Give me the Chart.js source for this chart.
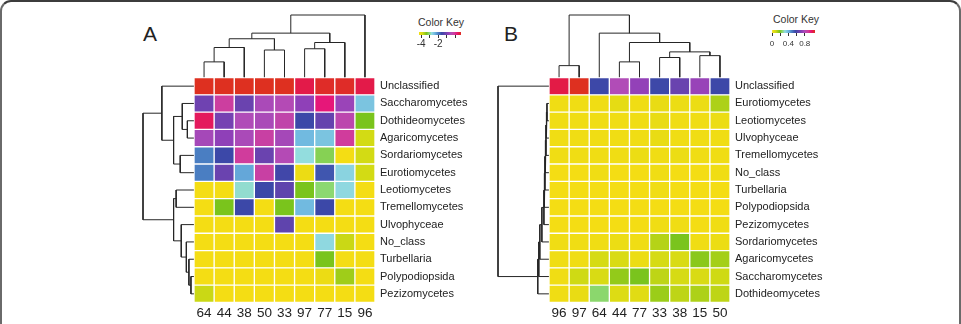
<!DOCTYPE html>
<html>
<head>
<meta charset="utf-8">
<title>Heatmaps A and B</title>
<script src="https://cdn.jsdelivr.net/npm/chart.js@4.4.1/dist/chart.umd.min.js"></script>
<style>
  html, body { margin: 0; padding: 0; background: #fff; }
  #page { position: relative; width: 961px; height: 324px; overflow: hidden; font-family: "Liberation Sans", Arial, Helvetica, sans-serif; color: #222; }
  .frame { position: absolute; left: 0; top: 0; width: 957px; height: 400px; border: 2px solid #6a6a6a; border-top-color: #3c3c3c; border-radius: 11px; }
  .box { position: absolute; }
  .box canvas { display: block; }
  .txt { position: absolute; line-height: 1; white-space: nowrap; }
</style>
</head>
<body>
<div id="page">
  <div class="frame"></div>
  <div class="txt" style="left:143px; top:23px; font-size:21px;">A</div>
  <div class="txt" style="left:504px; top:23px; font-size:21px;">B</div>
  <div class="txt" style="left:418px; top:16.5px; font-size:10.5px; color:#333;">Color Key</div>
  <div class="txt" style="left:773px; top:13.5px; font-size:10.5px; color:#333;">Color Key</div>
  <div class="box" style="left:130px; top:0;"><canvas id="heatA" width="350" height="324"></canvas></div>
  <div class="box" style="left:490px; top:0;"><canvas id="heatB" width="350" height="324"></canvas></div>
  <div class="box" style="left:409px; top:28px;"><canvas id="keyA" width="62" height="24"></canvas></div>
  <div class="box" style="left:762px; top:27px;"><canvas id="keyB" width="63" height="24"></canvas></div>
</div>
<script>
// ---- panel A data ----
const colsA = ['64', '44', '38', '50', '33', '97', '77', '15', '96'];
const rowsA = ['Unclassified', 'Saccharomycetes', 'Dothideomycetes', 'Agaricomycetes', 'Sordariomycetes',
  'Eurotiomycetes', 'Leotiomycetes', 'Tremellomycetes', 'Ulvophyceae', 'No_class', 'Turbellaria',
  'Polypodiopsida', 'Pezizomycetes'];
// one row per class, values on the colour key scale
const valuesA = [
  [0.70, 0.70, 0.70, 0.70, 0.70, 0.45, 0.65, 0.65, 0.45],
  [-1.08, -0.14, -1.13, -0.54, -0.44, -0.79, 0.21, -0.69, -2.52],
  [0.35, -1.03, -0.49, -0.54, -0.29, -1.58, -1.18, -0.34, -3.36],
  [-0.59, -0.79, -0.54, -0.19, -0.59, -2.42, -2.52, -0.09, -3.85],
  [-1.97, -1.58, -0.09, -1.13, -0.44, -2.77, -3.16, -4.25, -3.85],
  [-1.97, -1.13, -2.27, -0.19, -1.53, -4.15, -1.68, -2.67, -3.85],
  [-4.25, -4.25, -2.81, -1.58, -1.23, -3.36, -3.06, -2.72, -4.25],
  [-4.25, -3.36, -1.58, -4.25, -3.36, -2.42, -1.58, -4.25, -4.25],
  [-4.25, -4.25, -4.25, -4.25, -1.23, -4.25, -4.25, -4.25, -4.25],
  [-4.25, -4.25, -4.25, -4.25, -4.25, -4.25, -2.72, -3.80, -4.25],
  [-4.25, -4.25, -4.25, -4.25, -4.25, -4.25, -3.36, -4.25, -4.25],
  [-4.25, -4.25, -4.25, -4.25, -4.25, -4.25, -4.15, -3.56, -4.25],
  [-3.80, -4.25, -4.25, -4.25, -4.25, -4.25, -4.25, -4.25, -4.25]
];
// dendrograms, hclust style: negative = leaf (display position), positive = earlier merge
const colMergeA = [[-1, -2], [1, -3], [-4, -5], [2, 3], [-6, -7], [5, -8], [4, 6], [7, -9]];
const colHeightA = [0.25, 0.48, 0.44, 0.62, 0.46, 0.56, 0.71, 1.0];
const rowMergeA = [[-3, -4], [-2, 1], [-5, -6], [2, 3], [-1, 4], [-12, -13], [-11, 6], [-10, 7],
  [-9, 8], [-7, -8], [10, 9], [5, 11]];
const rowHeightA = [0.13, 0.23, 0.27, 0.40, 0.63, 0.06, 0.10, 0.15, 0.25, 0.35, 0.40, 1.0];
const keyRangeA = [-4.25, 0.7];
const keyTicksA = [-4, -3, -2, -1, 0];
const keyLabelsA = ['-4', '', '-2', '', ''];

// ---- panel B data ----
const colsB = ['96', '97', '64', '44', '77', '33', '38', '15', '50'];
const rowsB = ['Unclassified', 'Eurotiomycetes', 'Leotiomycetes', 'Ulvophyceae', 'Tremellomycetes',
  'No_class', 'Turbellaria', 'Polypodiopsida', 'Pezizomycetes', 'Sordariomycetes', 'Agaricomycetes',
  'Saccharomycetes', 'Dothideomycetes'];
const valuesB = [
  [1.00, 1.05, 0.57, 0.80, 0.74, 0.57, 0.66, 0.75, 0.57],
  [0.01, 0.01, 0.01, 0.04, 0.01, 0.03, 0.02, 0.02, 0.13],
  [0.01, 0.01, 0.01, 0.01, 0.01, 0.03, 0.01, 0.01, 0.02],
  [0.01, 0.01, 0.01, 0.01, 0.01, 0.03, 0.01, 0.01, 0.01],
  [0.01, 0.01, 0.01, 0.01, 0.02, 0.01, 0.02, 0.01, 0.01],
  [0.00, 0.00, 0.01, 0.00, 0.00, 0.01, 0.00, 0.00, 0.01],
  [0.00, 0.00, 0.00, 0.00, 0.00, 0.01, 0.00, 0.00, 0.00],
  [0.00, 0.00, 0.00, 0.00, 0.00, 0.00, 0.00, 0.00, 0.00],
  [0.00, 0.00, 0.00, 0.00, 0.00, 0.01, 0.01, 0.00, 0.01],
  [0.01, 0.01, 0.01, 0.02, 0.01, 0.12, 0.19, 0.01, 0.02],
  [0.01, 0.01, 0.08, 0.07, 0.02, 0.08, 0.07, 0.17, 0.14],
  [0.01, 0.09, 0.07, 0.16, 0.19, 0.11, 0.08, 0.07, 0.09],
  [0.01, 0.03, 0.25, 0.06, 0.05, 0.15, 0.11, 0.13, 0.11]
];
const colMergeB = [[-1, -2], [-4, -5], [-6, -7], [-8, -9], [3, 4], [2, 5], [-3, 6], [1, 7]];
const colHeightB = [0.19, 0.25, 0.32, 0.35, 0.41, 0.56, 0.71, 1.0];
const rowMergeB = [[-2, -3], [1, -4], [2, -5], [3, -6], [4, -7], [5, -8], [6, -9], [7, -10],
  [8, -11], [9, -12], [10, -13], [-1, 11]];
const rowHeightB = [0.04, 0.05, 0.06, 0.07, 0.08, 0.09, 0.10, 0.14, 0.18, 0.20, 0.22, 1.0];
const keyRangeB = [0, 1.05];
const keyTicksB = [0, 0.2, 0.4, 0.6, 0.8];
const keyLabelsB = ['0', '', '0.4', '', '0.8'];

// colour ramp (yellow -> green -> cyan -> blue -> purple -> red)
const rampPos = [0, 0.08, 0.18, 0.24, 0.30, 0.38, 0.46, 0.54, 0.62, 0.70, 0.76, 0.84, 0.90, 0.95, 1];
const rampCol = ['#f4dd14', '#d4db14', '#7ac41c', '#8cd870', '#93dde0', '#6cb5e0', '#4a7ec2', '#3c48a8',
  '#6443ae', '#9040b8', '#b04cb8', '#d03c9c', '#e6177a', '#e31a48', '#de3020'];

Chart.defaults.font.family = '"Liberation Sans", Arial, Helvetica, sans-serif';
Chart.defaults.color = '#222';

function hexRgb(h) {
  return [parseInt(h.slice(1, 3), 16), parseInt(h.slice(3, 5), 16), parseInt(h.slice(5, 7), 16)];
}

function rampColor(t) {
  t = Math.max(0, Math.min(1, t));
  let k = 1;
  while (k < rampPos.length - 1 && t > rampPos[k]) k++;
  const f = (t - rampPos[k - 1]) / (rampPos[k] - rampPos[k - 1]);
  const a = hexRgb(rampCol[k - 1]), b = hexRgb(rampCol[k]);
  return 'rgb(' + a.map((c, i) => Math.round(c + (b[i] - c) * f)).join(',') + ')';
}

// elbow segments of a dendrogram as [leafPosition, height] points, null = pen up
function dendroPath(merge, height) {
  const pos = [], pts = [];
  const nodePos = k => k < 0 ? -k - 0.5 : pos[k - 1];
  const nodeH = k => k < 0 ? 0 : height[k - 1];
  merge.forEach((m, i) => {
    const a = m[0], b = m[1], h = height[i];
    pts.push([nodePos(a), nodeH(a)], [nodePos(a), h], [nodePos(b), h], [nodePos(b), nodeH(b)], null);
    pos[i] = (nodePos(a) + nodePos(b)) / 2;
  });
  return pts;
}

function treeSet(points) {
  return {
    type: 'line', data: points, borderColor: '#262626', borderWidth: 1,
    pointRadius: 0, fill: false, tension: 0, spanGaps: false
  };
}

function drawPanel(id, p) {
  const nCols = p.cols.length, nRows = p.rows.length;
  const pxX = (p.gridRight - p.gridLeft) / nCols;
  const pxY = (p.gridBottom - p.gridTop) / nRows;
  const span = p.keyRange[1] - p.keyRange[0];

  const datasets = [];
  // heatmap: one floating-bar dataset per column
  for (let j = 0; j < nCols; j++) {
    datasets.push({
      type: 'bar', indexAxis: 'y', grouped: false,
      data: p.values.map((row, i) => ({ x: [j, j + 1], y: i + 0.5 })),
      backgroundColor: p.values.map(row => rampColor((row[j] - p.keyRange[0]) / span)),
      borderColor: '#ffffff', borderWidth: 1, borderSkipped: false,
      barPercentage: 1, categoryPercentage: 1
    });
  }
  const colLen = (p.gridTop - p.dendroTop) / pxY;
  const rowLen = (p.gridLeft - p.dendroLeft) / pxX;
  datasets.push(treeSet(dendroPath(p.colMerge, p.colHeight)
    .map(q => q ? { x: q[0], y: -q[1] * colLen } : { x: null, y: null })));
  datasets.push(treeSet(dendroPath(p.rowMerge, p.rowHeight)
    .map(q => q ? { x: -q[1] * rowLen, y: q[0] } : { x: null, y: null })));

  new Chart(document.getElementById(id), {
    type: 'scatter',
    data: { datasets: datasets },
    options: {
      responsive: false, animation: false, events: [],
      layout: { padding: 0 },
      plugins: { legend: { display: false }, tooltip: { enabled: false } },
      scales: {
        x: {
          type: 'linear', position: 'bottom', offset: false,
          min: -(p.gridLeft - p.canvasLeft) / pxX, max: nCols,
          grid: { display: false, drawTicks: false }, border: { display: false },
          afterBuildTicks: s => { s.ticks = p.cols.map((c, i) => ({ value: i + 0.5 })); },
          afterFit: s => {
            s.height = p.canvasHeight - p.gridBottom;
            s.paddingLeft = 0; s.paddingRight = 0;
          },
          ticks: {
            autoSkip: false, maxRotation: 0, padding: 3, color: '#222',
            font: { size: 13.5 }, callback: (v, i) => p.cols[i]
          }
        },
        y: {
          type: 'linear', position: 'right', reverse: true, offset: false,
          min: -p.gridTop / pxY, max: nRows,
          grid: { display: false, drawTicks: false }, border: { display: false },
          afterBuildTicks: s => { s.ticks = p.rows.map((r, i) => ({ value: i + 0.5 })); },
          afterFit: s => {
            s.width = p.canvasLeft + p.canvasWidth - p.gridRight;
            s.paddingTop = 0; s.paddingBottom = 0;
          },
          ticks: {
            autoSkip: false, padding: 5, color: '#222',
            font: { size: 11 }, callback: (v, i) => p.rows[i]
          }
        }
      }
    }
  });
}

function drawKey(id, range, ticks, labels, cfg) {
  new Chart(document.getElementById(id), {
    type: 'scatter',
    data: {
      datasets: [{
        type: 'bar', indexAxis: 'y', grouped: false,
        data: [{ x: range, y: 0 }],
        backgroundColor: ctx => {
          const area = ctx.chart.chartArea;
          if (!area) return rampCol[0];
          const g = ctx.chart.ctx.createLinearGradient(area.left, 0, area.right, 0);
          rampPos.forEach((t, i) => g.addColorStop(t, rampCol[i]));
          return g;
        },
        borderWidth: 0, barPercentage: 1, categoryPercentage: 1
      }]
    },
    options: {
      responsive: false, animation: false, events: [],
      layout: { padding: { left: 10, right: 10, top: cfg.top, bottom: 0 } },
      plugins: { legend: { display: false }, tooltip: { enabled: false } },
      scales: {
        x: {
          type: 'linear', min: range[0], max: range[1], offset: false,
          grid: { display: true, drawOnChartArea: false, drawTicks: true, tickLength: 3, color: '#333', lineWidth: 1 },
          border: { display: false },
          afterBuildTicks: s => { s.ticks = ticks.map(v => ({ value: v })); },
          afterFit: s => { s.height = cfg.axisH; },
          ticks: {
            autoSkip: false, maxRotation: 0, padding: cfg.pad, color: '#333',
            font: { size: cfg.font }, callback: (v, i) => labels[i]
          }
        },
        y: {
          type: 'linear', display: false, min: -0.5, max: 0.5,
          afterBuildTicks: s => { s.ticks = [{ value: 0 }]; }
        }
      }
    }
  });
}

drawPanel('heatA', {
  cols: colsA, rows: rowsA, values: valuesA, keyRange: keyRangeA,
  colMerge: colMergeA, colHeight: colHeightA, rowMerge: rowMergeA, rowHeight: rowHeightA,
  canvasLeft: 130, canvasWidth: 350, canvasHeight: 324,
  gridLeft: 194, gridRight: 375, gridTop: 77.5, gridBottom: 302.5,
  dendroTop: 15, dendroLeft: 143
});
drawPanel('heatB', {
  cols: colsB, rows: rowsB, values: valuesB, keyRange: keyRangeB,
  colMerge: colMergeB, colHeight: colHeightB, rowMerge: rowMergeB, rowHeight: rowHeightB,
  canvasLeft: 490, canvasWidth: 350, canvasHeight: 324,
  gridLeft: 549, gridRight: 730, gridTop: 77.5, gridBottom: 302.5,
  dendroTop: 15, dendroLeft: 498
});
drawKey('keyA', keyRangeA, keyTicksA, keyLabelsA, { top: 4, axisH: 17, pad: 0, font: 10 });
drawKey('keyB', keyRangeB, keyTicksB, keyLabelsB, { top: 3, axisH: 18, pad: 3, font: 8 });
</script>
</body>
</html>
